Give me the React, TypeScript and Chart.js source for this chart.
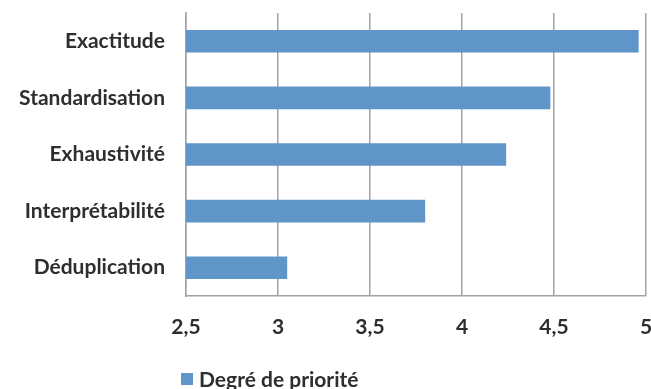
import React, { useEffect, useRef } from "react";
import { Chart, registerables } from "chart.js";

Chart.register(...registerables);

const categories = ["Exactitude", "Standardisation", "Exhaustivité", "Interprétabilité", "Déduplication"];
const values = [4.96, 4.48, 4.24, 3.8, 3.05];
const seriesLabel = "Degré de priorité";
const xMin = 2.5;
const xMax = 5;
const xStep = 0.5;

const FONT = "Lato, 'Open Sans', sans-serif";
const TEXT = "#2e2e2e";
const GRID = "#a3a3a3";
const BAR = "#5f95c8";

const legendPlugin = {
  id: "customLegend",
  afterDraw(chart: any) {
    const ctx = chart.ctx;
    const ds = chart.data.datasets[0];
    const x = chart.chartArea.left - 5;
    const y = 379;
    ctx.save();
    ctx.fillStyle = ds.backgroundColor;
    ctx.fillRect(x, y - 6, 12, 12);
    ctx.fillStyle = TEXT;
    ctx.font = `bold 21px ${FONT}`;
    ctx.textBaseline = "middle";
    ctx.textAlign = "left";
    ctx.fillText(ds.label, x + 18, y + 1);
    ctx.restore();
  },
};

export default function App() {
  const ref = useRef<HTMLCanvasElement>(null);
  useEffect(() => {
    document.body.style.margin = "0";
    const chart = new Chart(ref.current!, {
      type: "bar",
      data: {
        labels: categories,
        datasets: [
          {
            label: seriesLabel,
            data: values,
            backgroundColor: BAR,
            borderWidth: 0,
            barPercentage: 0.4,
            categoryPercentage: 1,
          },
        ],
      },
      plugins: [legendPlugin],
      options: {
        indexAxis: "y",
        animation: false,
        responsive: false,
        layout: { padding: { top: 13, right: 5, bottom: 0, left: 0 } },
        plugins: { legend: { display: false }, tooltip: { enabled: false } },
        scales: {
          x: {
            min: xMin,
            max: xMax,
            afterFit: (s: any) => {
              s.height = 93;
              s.paddingLeft = 0;
              s.paddingRight = 0;
            },
            ticks: {
              stepSize: xStep,
              padding: 19,
              color: TEXT,
              maxRotation: 0,
              font: { family: FONT, size: 21, weight: "bold" },
              callback: (v: any) => String(v).replace(".", ","),
            },
            grid: { color: GRID, lineWidth: 1.5, drawTicks: false },
            border: { display: true, color: GRID, width: 1.5 },
          },
          y: {
            afterFit: (s: any) => {
              s.width = 186;
              s.paddingTop = 0;
              s.paddingBottom = 0;
            },
            ticks: { padding: 21, color: TEXT, font: { family: FONT, size: 21, weight: "bold" } },
            grid: { display: false, drawTicks: false },
            border: { display: true, color: GRID, width: 1.5 },
          },
        },
      },
    });
    return () => chart.destroy();
  }, []);
  return (
    <div style={{ position: "absolute", left: 0, top: 0, width: 651, height: 389 }}>
      <canvas ref={ref} width={651} height={389} />
    </div>
  );
}
